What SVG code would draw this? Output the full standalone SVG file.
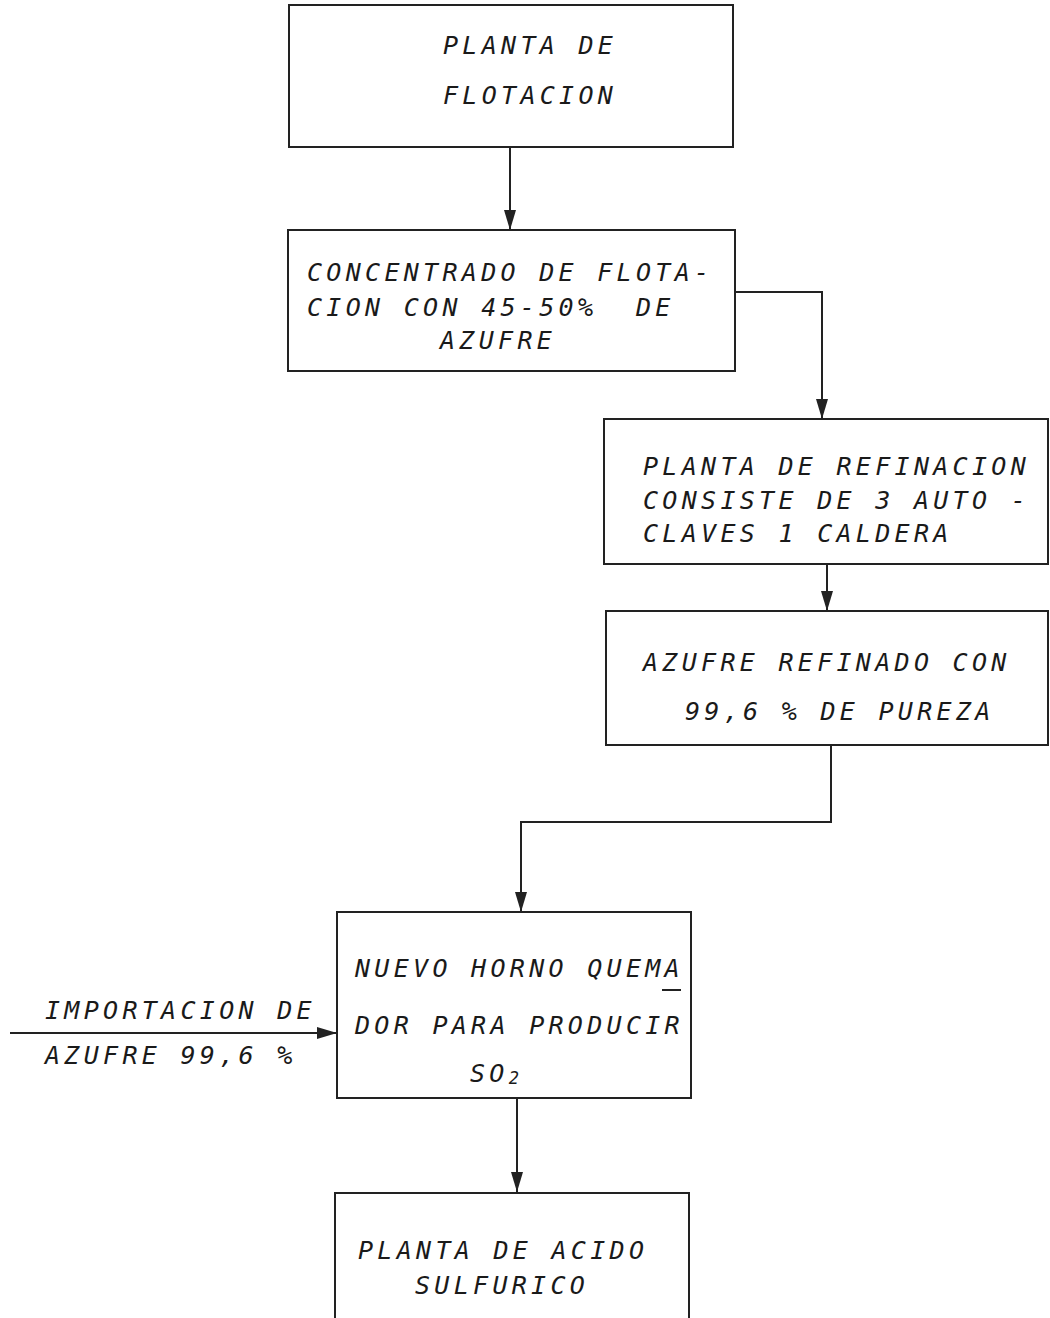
<svg xmlns="http://www.w3.org/2000/svg" width="1050" height="1318" viewBox="0 0 1050 1318">
<style>
.box{fill:none;stroke:#222;stroke-width:2}
.lbl{font-family:"DejaVu Sans Mono","Liberation Mono",monospace;font-style:italic;font-size:25px;letter-spacing:4.3px;fill:#1a1a1a;white-space:pre}
.con{fill:none;stroke:#222;stroke-width:2}
</style>
<defs>
<marker id="arr" viewBox="0 0 20 12" refX="20" refY="6" markerWidth="20" markerHeight="12" markerUnits="userSpaceOnUse" orient="auto">
<path d="M0,0 L20,6 L0,12 z" fill="#222"/>
</marker>
</defs>
<rect width="1050" height="1318" fill="#fff"/>
<g id="connectors">
<path class="con" d="M510,148 V230" marker-end="url(#arr)"/>
<path class="con" d="M735,292 H822 V419" marker-end="url(#arr)"/>
<path class="con" d="M827,564 V611" marker-end="url(#arr)"/>
<path class="con" d="M831,746 V822 H521 V912" marker-end="url(#arr)"/>
<path class="con" d="M10,1033 H337" marker-end="url(#arr)"/>
<path class="con" d="M517,1098 V1192" marker-end="url(#arr)"/>
</g>
<g id="n1">
<rect class="box" x="289" y="5" width="444" height="142"/>
<text class="lbl" x="443" y="54">PLANTA DE</text>
<text class="lbl" x="443" y="104">FLOTACION</text>
</g>
<g id="n2">
<rect class="box" x="288" y="230" width="447" height="141"/>
<text class="lbl" x="307" y="281">CONCENTRADO DE FLOTA-</text>
<text class="lbl" x="307" y="316" xml:space="preserve">CION CON 45-50%  DE</text>
<text class="lbl" x="440" y="349">AZUFRE</text>
</g>
<g id="n3">
<rect class="box" x="604" y="419" width="444" height="145"/>
<text class="lbl" x="643" y="475">PLANTA DE REFINACION</text>
<text class="lbl" x="643" y="509">CONSISTE DE 3 AUTO -</text>
<text class="lbl" x="643" y="542">CLAVES 1 CALDERA</text>
</g>
<g id="n4">
<rect class="box" x="606" y="611" width="442" height="134"/>
<text class="lbl" x="643" y="671">AZUFRE REFINADO CON</text>
<text class="lbl" x="685" y="720">99,6 % DE PUREZA</text>
</g>
<g id="n5">
<rect class="box" x="337" y="912" width="354" height="186"/>
<text class="lbl" x="355" y="977">NUEVO HORNO QUEMA</text>
<line x1="662" y1="990" x2="681" y2="990" stroke="#222" stroke-width="2"/>
<text class="lbl" x="355" y="1034">DOR PARA PRODUCIR</text>
<text class="lbl" x="470" y="1082">SO<tspan font-size="17" dy="2">2</tspan></text>
</g>
<g id="n6">
<rect class="box" x="335" y="1193" width="354" height="160"/>
<text class="lbl" x="358" y="1259">PLANTA DE ACIDO</text>
<text class="lbl" x="415" y="1294">SULFURICO</text>
</g>
<g id="import-label">
<text class="lbl" x="45" y="1019">IMPORTACION DE</text>
<text class="lbl" x="45" y="1064">AZUFRE 99,6 %</text>
</g>
</svg>
